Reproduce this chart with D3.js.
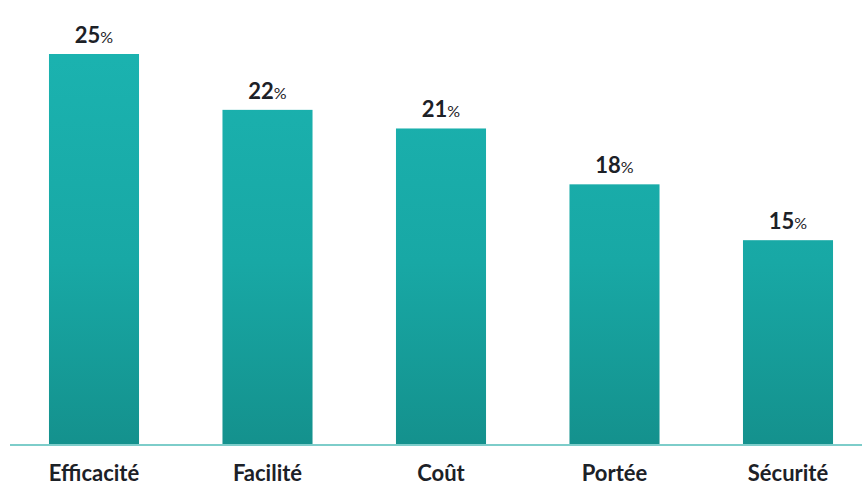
<!DOCTYPE html>
<html>
<head>
<meta charset="utf-8">
<script src="https://cdn.jsdelivr.net/npm/d3@7"></script>
<style>
  html, body { margin: 0; padding: 0; background: #ffffff; }
  svg { display: block; font-family: Lato, "Open Sans", sans-serif; }
</style>
</head>
<body>
<svg id="chart" width="862" height="487"></svg>
<script>
// Share of respondents by criterion
const categories = ["Efficacité", "Facilité", "Coût", "Portée", "Sécurité"];
const values = [25, 22, 21, 18, 15];
const unit = "%";

const width = 862, height = 487;
const baseline = 445;
const svg = d3.select("#chart");

const x = d3.scaleBand()
  .domain(categories)
  .range([7.25, 874.75])
  .paddingInner(0.481)
  .paddingOuter(0.2405);

const y = d3.scaleLinear()
  .domain([4, 25])
  .range([baseline, 54]);

// vertical gradient on the bars
const defs = svg.append("defs");
const grad = defs.append("linearGradient")
  .attr("id", "barGrad")
  .attr("gradientUnits", "userSpaceOnUse")
  .attr("x1", 0).attr("x2", 0)
  .attr("y1", 40).attr("y2", baseline);
grad.append("stop").attr("offset", "0%").attr("stop-color", "#1bb3b0");
grad.append("stop").attr("offset", "55%").attr("stop-color", "#18a8a5");
grad.append("stop").attr("offset", "100%").attr("stop-color", "#14918d");

const data = categories.map((c, i) => ({ c, v: values[i] }));

svg.append("g").selectAll("rect")
  .data(data)
  .join("rect")
  .attr("x", d => x(d.c))
  .attr("width", x.bandwidth())
  .attr("y", d => y(d.v))
  .attr("height", d => baseline - y(d.v))
  .attr("fill", "url(#barGrad)");

// baseline
svg.append("line")
  .attr("x1", 10).attr("x2", width)
  .attr("y1", baseline).attr("y2", baseline)
  .attr("stroke", "#7dcdca")
  .attr("stroke-width", 2);

// value labels
const vl = svg.append("g").selectAll("text")
  .data(data)
  .join("text")
  .attr("x", d => x(d.c) + x.bandwidth() / 2)
  .attr("y", d => y(d.v) - 11)
  .attr("text-anchor", "middle")
  .attr("fill", "#1c2127");
vl.append("tspan")
  .attr("font-weight", 700)
  .attr("font-size", 22)
  .text(d => d.v);
vl.append("tspan")
  .attr("font-weight", 400)
  .attr("font-size", 16)
  .text(unit);

// category axis labels
svg.append("g").selectAll("text")
  .data(categories)
  .join("text")
  .attr("x", d => x(d) + x.bandwidth() / 2)
  .attr("y", 481)
  .attr("text-anchor", "middle")
  .attr("font-weight", 700)
  .attr("font-size", 22)
  .attr("fill", "#1c2127")
  .text(d => d);
</script>
</body>
</html>
